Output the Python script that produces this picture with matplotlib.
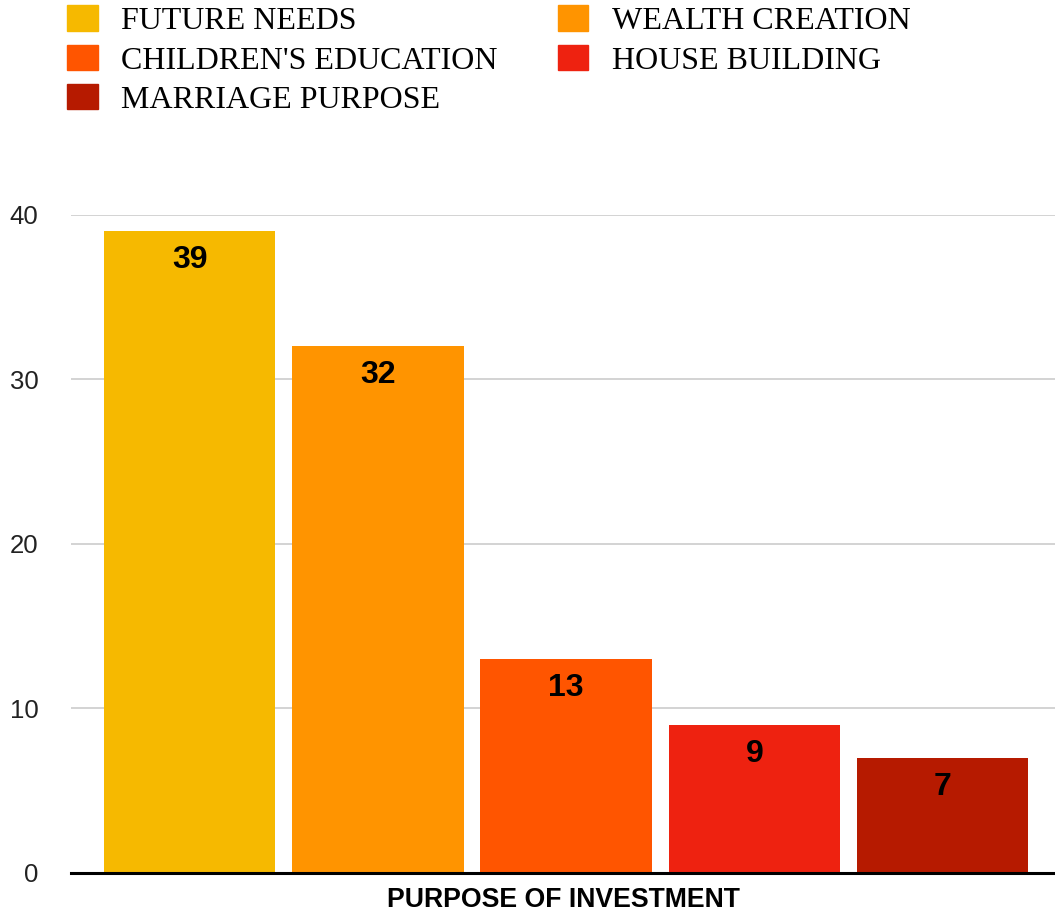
import matplotlib.pyplot as plt
from matplotlib.patches import Patch

purposes = ["FUTURE NEEDS", "WEALTH CREATION", "CHILDREN'S EDUCATION",
            "HOUSE BUILDING", "MARRIAGE PURPOSE"]
counts = [39, 32, 13, 9, 7]
colors = ["#F6B900", "#FF9400", "#FF5500", "#EE2210", "#B61A00"]
y_ticks = [0, 10, 20, 30, 40]

fig = plt.figure(figsize=(10.55, 9.15), dpi=100)
ax = fig.add_axes([71 / 1055, 1 - 873 / 915, 1 - 71 / 1055, (873 - 214.7) / 915])

x = list(range(len(counts)))
bars = ax.bar(x, counts, width=0.91, color=colors, zorder=2)

for b, v in zip(bars, counts):
    ax.annotate(str(v), (b.get_x() + b.get_width() / 2, v), xytext=(0, -14),
                textcoords="offset pixels", ha="center", va="top",
                fontsize=23, fontweight="bold", family="Liberation Sans", zorder=3)

ax.set_xlim(-0.63, 4.597)
ax.set_ylim(0, 40)
ax.set_yticks(y_ticks)
ax.set_yticklabels([str(t) for t in y_ticks], family="Liberation Sans", fontsize=18.5, color="#222222")
ax.tick_params(axis="y", length=0, pad=23.5)
ax.set_xticks([])
ax.grid(axis="y", color="#CCCCCC", linewidth=1.2, zorder=0)
for s in ["top", "right", "left"]:
    ax.spines[s].set_visible(False)
ax.spines["bottom"].set_linewidth(2.2)
ax.spines["bottom"].set_color("black")
ax.spines["bottom"].set_zorder(4)

ax.set_xlabel("PURPOSE OF INVESTMENT", family="Liberation Sans", fontsize=19.2,
              fontweight="bold", labelpad=10)

# legend, row-major order like the reference
order = [0, 2, 4, 1, 3]
handles = [Patch(color=colors[i]) for i in order]
labels = [purposes[i] for i in order]
fig.legend(handles, labels, ncol=2, loc="upper left", bbox_to_anchor=(51.5 / 1055, 1 + 10.5 / 915),
           frameon=False, prop={"family": "Liberation Serif", "size": 23},
           handlelength=0.94, handleheight=0.84, handletextpad=0.75,
           columnspacing=1.87, labelspacing=0.27, borderpad=0)

fig.savefig("out.png", dpi=100)
